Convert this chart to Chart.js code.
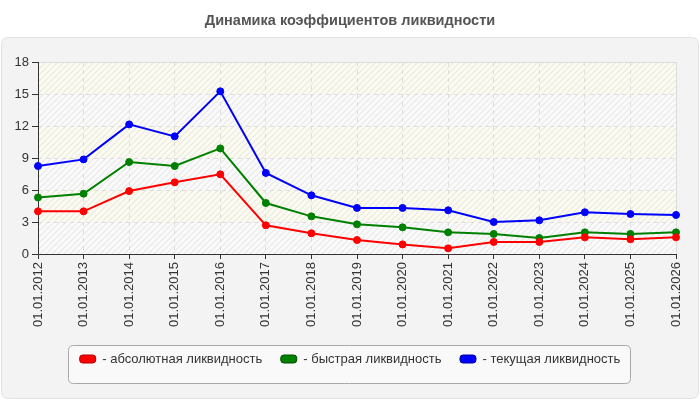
<!DOCTYPE html>
<html><head><meta charset="utf-8">
<style>html,body{margin:0;padding:0;background:#fff;}#wrap{width:700px;height:400px;position:relative}</style>
<script src="https://cdn.jsdelivr.net/npm/chart.js@4.4.1/dist/chart.umd.min.js"></script>
</head><body><div id="wrap"><canvas id="c" width="700" height="400"></canvas></div>
<script>
const categories = ['01.01.2012','01.01.2013','01.01.2014','01.01.2015','01.01.2016','01.01.2017','01.01.2018','01.01.2019','01.01.2020','01.01.2021','01.01.2022','01.01.2023','01.01.2024','01.01.2025','01.01.2026'];
const absoluteLiquidity = [4.0, 4.0, 5.9, 6.72, 7.47, 2.69, 1.94, 1.31, 0.9, 0.53, 1.13, 1.13, 1.56, 1.38, 1.56];
const quickLiquidity = [5.3, 5.65, 8.62, 8.25, 9.9, 4.78, 3.53, 2.78, 2.5, 2.03, 1.88, 1.5, 2.03, 1.88, 2.03];
const currentLiquidity = [8.25, 8.87, 12.15, 11.03, 15.25, 7.6, 5.5, 4.32, 4.32, 4.1, 3.0, 3.16, 3.91, 3.75, 3.66];
const seriesNames = ['абсолютная ликвидность', 'быстрая ликвидность', 'текущая ликвидность'];
const titleText = 'Динамика коэффициентов ликвидности';
const yMin = 0, yMax = 18, yStep = 3;

const FONT = "'Liberation Sans', Arial, sans-serif";

function makeHatch() {
  const c = document.createElement('canvas');
  c.width = 6; c.height = 6;
  const g = c.getContext('2d');
  g.strokeStyle = 'rgba(0,0,0,0.07)';
  g.lineWidth = 1.2;
  g.beginPath();
  g.moveTo(-1, 7); g.lineTo(7, -1);
  g.moveTo(-1, 1); g.lineTo(1, -1);
  g.moveTo(5, 7); g.lineTo(7, 5);
  g.stroke();
  return c;
}
const hatchCanvas = makeHatch();

function roundRect(ctx, x, y, w, h, r) {
  ctx.beginPath();
  ctx.moveTo(x + r, y);
  ctx.lineTo(x + w - r, y);
  ctx.quadraticCurveTo(x + w, y, x + w, y + r);
  ctx.lineTo(x + w, y + h - r);
  ctx.quadraticCurveTo(x + w, y + h, x + w - r, y + h);
  ctx.lineTo(x + r, y + h);
  ctx.quadraticCurveTo(x, y + h, x, y + h - r);
  ctx.lineTo(x, y + r);
  ctx.quadraticCurveTo(x, y, x + r, y);
  ctx.closePath();
}

const decor = {
  id: 'decor',
  beforeDraw(chart) {
    const ctx = chart.ctx;
    const a = chart.chartArea;
    const ys = chart.scales.y;
    ctx.save();
    ctx.fillStyle = '#ffffff';
    ctx.fillRect(0, 0, chart.width, chart.height);
    roundRect(ctx, 1.5, 37.5, chart.width - 3, chart.height - 39, 7);
    ctx.fillStyle = '#f3f3f3';
    ctx.fill();
    ctx.strokeStyle = '#e2e2e2';
    ctx.lineWidth = 1;
    ctx.stroke();
    for (let v = yMin, i = 0; v < yMax; v += yStep, i++) {
      const top = ys.getPixelForValue(v + yStep), bot = ys.getPixelForValue(v);
      ctx.fillStyle = (i % 2 === 1) ? '#fbfbf1' : '#fafafa';
      ctx.fillRect(a.left, top, a.right - a.left, bot - top);
    }
    ctx.fillStyle = ctx.createPattern(hatchCanvas, 'repeat');
    ctx.fillRect(a.left, a.top, a.right - a.left, a.bottom - a.top);
    const hb = chart.legend && chart.legend.legendHitBoxes;
    if (hb && hb.length) {
      const first = hb[0], last = hb[hb.length - 1];
      const cy = first.top + first.height / 2;
      const lx = Math.round(first.left - 12) + 0.5;
      const rx = Math.round(last.left + last.width + 10) + 0.5;
      roundRect(ctx, lx, Math.round(cy - 14) + 0.5, rx - lx, 38, 5);
      ctx.fillStyle = '#f9f9f9';
      ctx.fill();
      ctx.strokeStyle = '#a8a8a8';
      ctx.stroke();
    }
    ctx.restore();
  },
  beforeDatasetsDraw(chart) {
    const ctx = chart.ctx;
    const a = chart.chartArea;
    ctx.save();
    ctx.lineWidth = 1;
    ctx.setLineDash([]);
    ctx.strokeStyle = '#dcdcdc';
    ctx.beginPath();
    ctx.moveTo(a.left, Math.round(a.top) + 0.5);
    ctx.lineTo(a.right, Math.round(a.top) + 0.5);
    ctx.moveTo(Math.round(a.right) + 0.5, a.top);
    ctx.lineTo(Math.round(a.right) + 0.5, a.bottom);
    ctx.stroke();
    ctx.strokeStyle = '#333333';
    ctx.beginPath();
    ctx.moveTo(Math.round(a.left) + 0.5, a.top);
    ctx.lineTo(Math.round(a.left) + 0.5, Math.round(a.bottom) + 0.5);
    ctx.lineTo(a.right + 1, Math.round(a.bottom) + 0.5);
    ctx.stroke();
    ctx.restore();
  }
};

const colors = ['#ff0000', '#008000', '#0000ff'];
const strokeColors = ['#b00000', '#005000', '#0000a0'];
const values = [absoluteLiquidity, quickLiquidity, currentLiquidity];

new Chart(document.getElementById('c'), {
  type: 'line',
  data: {
    labels: categories,
    datasets: values.map((d, i) => ({
      label: seriesNames[i],
      data: d,
      borderColor: colors[i],
      backgroundColor: colors[i],
      borderWidth: 2,
      pointRadius: 3.5,
      pointBorderWidth: 1,
      pointBackgroundColor: colors[i],
      pointBorderColor: colors[i],
      tension: 0,
      clip: false,
      fill: false,
      yAxisID: 'y'
    }))
  },
  options: {
    responsive: false,
    animation: false,
    devicePixelRatio: 1,
    layout: { padding: { left: 0, right: 0, top: 0, bottom: 24.5 } },
    plugins: {
      title: {
        display: true,
        text: titleText,
        color: '#555555',
        font: { family: FONT, size: 14.5, weight: 'bold' },
        padding: { top: 12, bottom: 32.6 }
      },
      legend: {
        position: 'bottom',
        labels: {
          color: '#333333',
          font: { family: FONT, size: 13 },
          boxWidth: 16,
          boxHeight: 8,
          padding: 18.5,
          useBorderRadius: true,
          borderRadius: 3,
          generateLabels(chart) {
            return chart.data.datasets.map((ds, i) => ({
              text: '- ' + ds.label,
              fillStyle: colors[i],
              strokeStyle: strokeColors[i],
              lineWidth: 1,
              datasetIndex: i,
              borderRadius: 3,
              fontColor: '#333333'
            }));
          }
        }
      },
      tooltip: { enabled: false }
    },
    scales: {
      x: {
        offset: false,
        grid: { color: '#dddddd', lineWidth: 1, drawTicks: true, tickLength: 5, tickColor: '#333333', tickBorderDash: [], tickWidth: 1 },
        border: { display: false, dash: [4, 4] },
        ticks: { color: '#333333', font: { family: FONT, size: 13 }, minRotation: 90, maxRotation: 90, padding: 3, autoSkip: false },
        afterFit(s) { s.height = 80; }
      },
      y: {
        min: yMin, max: yMax,
        grid: { color: '#dddddd', lineWidth: 1, drawTicks: true, tickLength: 6, tickColor: '#333333', tickBorderDash: [], tickWidth: 1 },
        border: { display: false, dash: [4, 4] },
        ticks: { stepSize: yStep, color: '#333333', font: { family: FONT, size: 13 }, padding: 3 },
        afterFit(s) { s.width = 38; }
      },
      yRight: {
        position: 'right',
        display: true,
        grid: { display: false, drawOnChartArea: false, drawTicks: false },
        border: { display: false },
        ticks: { display: false },
        afterFit(s) { s.width = 24; }
      }
    }
  },
  plugins: [decor]
});
</script>
</body></html>
